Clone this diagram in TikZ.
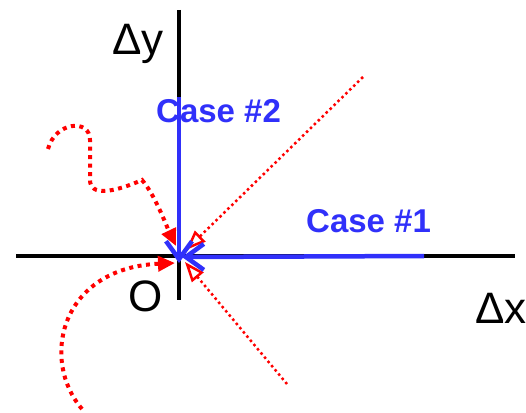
\documentclass[tikz,border=0pt]{standalone}
\usepackage{fontspec}
\setmainfont{Liberation Sans}
\usetikzlibrary{arrows.meta}
\definecolor{caseblue}{RGB}{48,48,250}
\tikzset{
  axis/.style={line width=4pt, black},
  bigtxt/.style={inner sep=0pt, anchor=base west, font=\fontsize{44}{48}\selectfont},
  casetxt/.style={inner sep=0pt, anchor=base west, text=caseblue, font=\fontsize{33}{36}\selectfont\bfseries},
  casearrow/.style={line width=4.5pt, caseblue, -{Straight Barb[length=18pt,width=26pt,line width=4.5pt]}},
  thickdots/.style={red, line width=4pt, dash pattern=on 4pt off 4.5pt, -{Triangle[length=17pt,width=15pt]}},
  thindots/.style={red, line width=2.5pt, dash pattern=on 2.5pt off 3pt, -{Triangle[open,length=20pt,width=15pt,line width=2.5pt]}}
}
\begin{document}
\begin{tikzpicture}[x=1pt,y=-1pt]
\useasboundingbox (0,0) rectangle (526,412);
% labels
\node[bigtxt] (dy) at (112,55) {Δy};
\node[bigtxt] (dx) at (475,323) {Δx};
\node[bigtxt] (O) at (128,311) {O};
\node[casetxt] (c2) at (156,122) {Case \#2};
\node[casetxt] (c1) at (306,232) {Case \#1};
% coordinates
\coordinate (xl) at (16,256);
\coordinate (xr) at (515,256);
\coordinate (yt) at (179,10);
\coordinate (yb) at (179,300);
\coordinate (b2s) at (179,97);
\coordinate (b2e) at (179,263);
\coordinate (b1s) at (424,256);
\coordinate (b1e) at (182,257);
\coordinate (w0) at (48,149);
\coordinate (w1) at (90,140);
\coordinate (w2) at (90,180);
\coordinate (w3) at (142,180);
\coordinate (w4) at (176,246);
\coordinate (a0) at (82,409);
\coordinate (a1) at (175,263);
\coordinate (d1s) at (363,77);
\coordinate (d1e) at (186,250);
\coordinate (d2s) at (287,384);
\coordinate (d2e) at (185,262);
% axes
\draw[axis] (xl) -- (xr);
\draw[axis] (yt) -- (yb);
% red paths
\draw[thickdots] (w0) .. controls (55,122) and (90,118) .. (w1) -- (w2) .. controls (90,197) and (115,192) .. (w3) .. controls (155,195) and (166,225) .. (w4);
\draw[thickdots] (a0) .. controls (40,360) and (60,268) .. (a1);
\draw[thindots] (d1s) -- (d1e);
\draw[thindots] (d2s) -- (d2e);
% blue arrows
\draw[casearrow] (b2s) -- (b2e);
\draw[casearrow] (b1s) -- (b1e);
\end{tikzpicture}
\end{document}
